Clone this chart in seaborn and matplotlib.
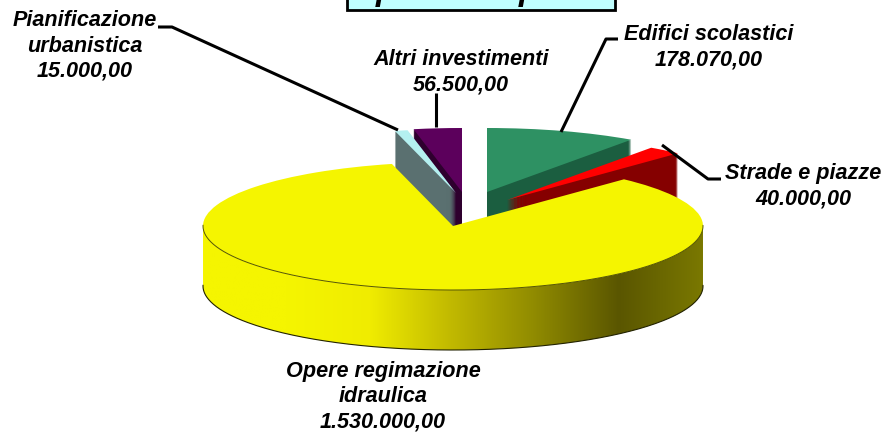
import numpy as np
import matplotlib
matplotlib.use('Agg')
import matplotlib.pyplot as plt
import seaborn as sns
from matplotlib.patches import Polygon, Rectangle

categories = ['Edifici scolastici', 'Strade e piazze', 'Opere regimazione\nidraulica',
              'Pianificazione\nurbanistica', 'Altri investimenti']
values = [178070.00, 40000.00, 1530000.00, 15000.00, 56500.00]
value_labels = ['178.070,00', '40.000,00', '1.530.000,00', '15.000,00', '56.500,00']

top_colors = ['#2e9163', '#ff0000', '#f5f500', '#b4f0f0', '#5c005c']
wall_colors = ['#1b5e40', '#850000', '#f5f500', '#5a7070', '#2e002e']

# pixel positions of each slice tip, ellipse size and extrusion
apex = [(487, 192), (507, 200), (453, 226), (456, 193), (462, 192)]
RX, RY, DEPTH = 250, 64, 60
W, H = 887, 432
k = RX / RY

sns.set_theme(style='white')
plt.rcParams['font.family'] = ['Liberation Sans', 'DejaVu Sans']

fig = plt.figure(figsize=(W / 100, H / 100), dpi=100)
ax = fig.add_axes([0, 0, 1, 1])


def yd(py):
    # pixel row to squashed data y
    return (H - py) * k


total = sum(values)
fracs = [v / total for v in values]
starts = 90 - 360 * np.cumsum([0] + fracs[:-1])

shade = sns.blend_palette(['#f5f500', '#f5f500', '#f0ec00', '#c0b800', '#8f8a00', '#5a5600', '#7a7800'],
                          as_cmap=True)


def draw_slice(i, py_offset, color):
    ax.pie([fracs[i], 1 - fracs[i]], startangle=starts[i] - 360 * fracs[i], counterclock=True,
           colors=[color, 'none'], radius=RX, center=(apex[i][0], yd(apex[i][1] + py_offset)),
           frame=True, normalize=True, wedgeprops={'edgecolor': 'none', 'linewidth': 0})


# back slices first, yellow slice last so it sits over their walls
for i in [0, 1, 4, 3]:
    for off in range(DEPTH, 0, -1):
        draw_slice(i, off, wall_colors[i])
    draw_slice(i, 0, top_colors[i])

# side of the big slice with its left to right shading
x0, y0 = apex[2]
theta = np.radians(np.linspace(starts[2] - 360 * fracs[2], starts[2], 400))
theta = theta[np.sin(theta) <= 0.02]
xs = x0 + RX * np.cos(theta)
ys = y0 - RY * np.sin(theta)
outline = list(zip(xs, yd(ys))) + list(zip(xs[::-1], yd(ys[::-1] + DEPTH)))
clip = Polygon(outline, transform=ax.transData, fc='none', ec='none')
ax.add_patch(clip)
grad = np.linspace(0, 1, 256).reshape(1, -1)
im = ax.imshow(grad, cmap=shade, aspect='auto',
               extent=(x0 - RX, x0 + RX, yd(y0 + RY + DEPTH), yd(y0 - RY)))
im.set_clip_path(clip)
ax.plot(xs, yd(ys + DEPTH), color='#222200', lw=0.8)
draw_slice(2, 0, top_colors[2])
ax.plot(xs, yd(ys), color='#555500', lw=0.7)

ax.set_xlim(0, W)
ax.set_ylim(0, H * k)
ax.set_aspect('auto')
ax.axis('off')

# title box cut off by the top of the image, only descenders of the title show
ax.add_patch(Rectangle((347, yd(10)), 268, yd(-5) - yd(10), fc='#c0ffff', ec='black', lw=2, clip_on=True))
for px in [386, 529]:
    ax.text(px, yd(0), 'p', ha='center', va='baseline', fontsize=24,
            fontweight='bold', fontstyle='italic', color='black')

# leader lines
leaders = [
    [(561, 132), (606, 39), (618, 39)],
    [(662, 145), (708, 179), (721, 179)],
    [(398, 130), (172, 27), (158, 27)],
    [(436, 127), (436, 93)],
]
for line in leaders:
    lx, ly = zip(*line)
    ax.plot(lx, yd(np.array(ly)), color='black', lw=2.2, solid_capstyle='butt')

label_pos = [(709, 47), (803, 186), (383, 397), (85, 46), (461, 72)]
for name, val, (px, py) in zip(categories, value_labels, label_pos):
    ax.text(px, yd(py), name + '\n' + val, ha='center', va='center', fontsize=15.6,
            fontweight='bold', fontstyle='italic', color='black', linespacing=1.28)

fig.savefig('out.png', dpi=100, facecolor='white')
